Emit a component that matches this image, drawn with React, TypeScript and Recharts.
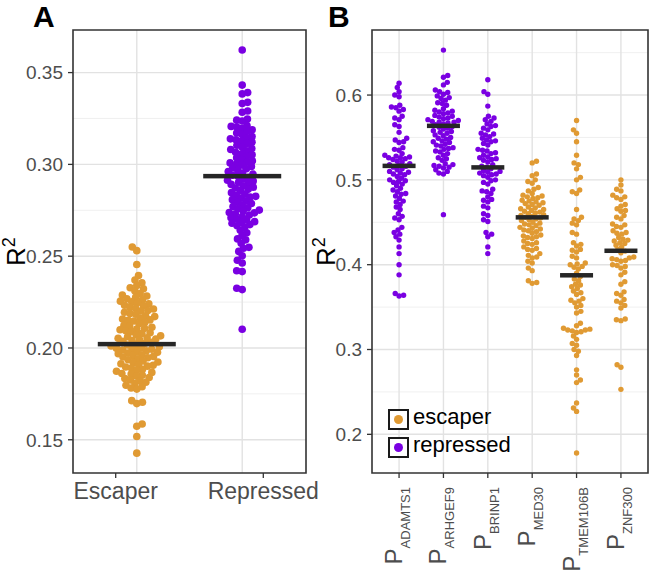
import React from 'react';
import { ScatterChart, Scatter, XAxis, YAxis, CartesianGrid, ReferenceArea, Legend, Label } from 'recharts';

const FONT = '"Liberation Sans", Arial, Helvetica, sans-serif';
const ORANGE = '#E09A33';
const PURPLE = '#7A00E2';
const BAR = '#262626';
const GRID_MAJOR = '#E2E2E2';
const GRID_MINOR = '#ECECEC';

// ---------- Panel A data ----------
const categoriesA = ['Escaper', 'Repressed'];
const xLabelPosA = [0.8, 2.2];
const escaperA = [
  0.255, 0.253, 0.2455, 0.2395, 0.237, 0.2355, 0.234, 0.2328, 0.2322, 0.231,
  0.2296, 0.2288, 0.2283, 0.2276, 0.2268, 0.2262, 0.2255, 0.2251,
  0.2246, 0.2241, 0.2233, 0.2229, 0.2221, 0.2216, 0.2212, 0.2204, 0.2201,
  0.2195, 0.2188, 0.2184, 0.2175, 0.2171, 0.2163, 0.2158, 0.2153, 0.2151,
  0.2147, 0.2139, 0.2132, 0.2124, 0.2119, 0.2113, 0.2107, 0.2103, 0.2099,
  0.2094, 0.2089, 0.2083, 0.2079, 0.2071, 0.2066, 0.2061, 0.2056, 0.2053, 0.2049,
  0.2045, 0.2041, 0.2036, 0.2031, 0.2026, 0.2019, 0.2016, 0.2011, 0.2007, 0.2003, 0.1999,
  0.1996, 0.1993, 0.1989, 0.1984, 0.1981, 0.1977, 0.1973, 0.1969, 0.1963, 0.1959, 0.1954, 0.1951,
  0.1947, 0.1941, 0.1936, 0.1929, 0.1924, 0.1921, 0.1914, 0.1909, 0.1906, 0.1901,
  0.1896, 0.1891, 0.1884, 0.1879, 0.1873, 0.1867, 0.1861, 0.1858, 0.1852,
  0.1846, 0.1839, 0.1834, 0.1826, 0.1821, 0.1813, 0.1806,
  0.1797, 0.1789, 0.1782, 0.1776,
  0.1713, 0.1704, 0.1697,
  0.1586, 0.1574, 0.1518, 0.1427,
];
const repressedA = [
  0.3623, 0.3432, 0.3391, 0.3384, 0.3338, 0.3331, 0.3291, 0.3284,
  0.3247, 0.3241, 0.3236, 0.3212, 0.3207, 0.3203,
  0.3196, 0.3188, 0.3179, 0.3171, 0.3163, 0.3152,
  0.3145, 0.3139, 0.3134, 0.3129, 0.3121, 0.3113, 0.3104,
  0.3094, 0.3086, 0.3081, 0.3074, 0.3066, 0.3058, 0.3052,
  0.3043, 0.3036, 0.3027, 0.3019, 0.3012, 0.3008, 0.3003,
  0.2996, 0.2989, 0.2981, 0.2976, 0.2968, 0.2961, 0.2953,
  0.2947, 0.2941, 0.2936, 0.2929, 0.2922, 0.2914, 0.2909, 0.2903,
  0.2897, 0.2891, 0.2884, 0.2876, 0.2871, 0.2864, 0.2857,
  0.2846, 0.2839, 0.2831, 0.2826, 0.2822, 0.2816, 0.2808, 0.2801,
  0.2794, 0.2787, 0.2779, 0.2771, 0.2764, 0.2758, 0.2751,
  0.2746, 0.2738, 0.2736, 0.2731, 0.2724, 0.2716, 0.2709, 0.2702,
  0.2697, 0.2688, 0.2684, 0.2679, 0.2672, 0.2666, 0.2659,
  0.2641, 0.2628, 0.2612, 0.2594, 0.2589, 0.2571, 0.2548, 0.2543, 0.2526,
  0.2502, 0.2478, 0.2463, 0.2421, 0.2416, 0.2325, 0.2318, 0.2102,
];
const meansA = [0.2021, 0.2936];
const yTicksA = [0.15, 0.2, 0.25, 0.3, 0.35];
const yMinorA = [0.175, 0.225, 0.275, 0.325];
const yDomainA: [number, number] = [0.1319, 0.3732];
const xDomainA: [number, number] = [0.395, 2.605];

// ---------- Panel B data ----------
const genesB = ['ADAMTS1', 'ARHGEF9', 'BRINP1', 'MED30', 'TMEM106B', 'ZNF300'];
const groupB = ['repressed', 'repressed', 'repressed', 'escaper', 'escaper', 'escaper'];
const adamts1 = [
  0.614, 0.609, 0.604, 0.6, 0.598, 0.588, 0.586, 0.585, 0.583, 0.581, 0.575, 0.573, 0.571, 0.565, 0.563,
  0.556, 0.549, 0.547, 0.545, 0.544, 0.538, 0.536, 0.535, 0.531, 0.529, 0.528, 0.527, 0.526, 0.526, 0.525,
  0.524, 0.522, 0.521, 0.519, 0.518, 0.517, 0.516, 0.515, 0.513, 0.512, 0.51, 0.509, 0.508, 0.507, 0.506,
  0.504, 0.502, 0.5, 0.499, 0.498, 0.497, 0.495, 0.493, 0.49, 0.488, 0.486, 0.484, 0.483, 0.481, 0.478,
  0.475, 0.474, 0.471, 0.468, 0.465, 0.46, 0.457, 0.455, 0.453, 0.444, 0.441, 0.438, 0.436, 0.433, 0.429,
  0.421, 0.413, 0.4, 0.388, 0.366, 0.364, 0.363,
];
const arhgef9 = [
  0.653, 0.623, 0.621, 0.615, 0.612, 0.606, 0.604, 0.603, 0.601, 0.599, 0.597, 0.596, 0.594, 0.591, 0.59,
  0.588, 0.584, 0.582, 0.581, 0.58, 0.579, 0.578, 0.576, 0.575, 0.574, 0.573, 0.572, 0.571, 0.57, 0.569,
  0.568, 0.568, 0.567, 0.566, 0.565, 0.563, 0.562, 0.561, 0.56, 0.558, 0.557, 0.556, 0.555, 0.553, 0.552,
  0.55, 0.549, 0.548, 0.546, 0.545, 0.544, 0.542, 0.541, 0.54, 0.538, 0.537, 0.536, 0.534, 0.533, 0.531,
  0.529, 0.526, 0.525, 0.523, 0.519, 0.518, 0.517, 0.516, 0.515, 0.514, 0.512, 0.51, 0.508, 0.507, 0.459,
];
const brinp1 = [
  0.618, 0.604, 0.601, 0.587, 0.575, 0.573, 0.571, 0.569, 0.566, 0.564, 0.563, 0.561, 0.559, 0.555, 0.554,
  0.553, 0.551, 0.549, 0.547, 0.546, 0.545, 0.543, 0.541, 0.536, 0.535, 0.534, 0.532, 0.531, 0.529, 0.527,
  0.526, 0.525, 0.524, 0.523, 0.521, 0.518, 0.516, 0.515, 0.513, 0.511, 0.51, 0.509, 0.508, 0.507, 0.506,
  0.505, 0.503, 0.5, 0.499, 0.497, 0.495, 0.489, 0.487, 0.486, 0.484, 0.48, 0.477, 0.476, 0.474, 0.469,
  0.467, 0.46, 0.458, 0.453, 0.451, 0.438, 0.436, 0.433, 0.421, 0.413,
];
const med30 = [
  0.522, 0.52, 0.507, 0.505, 0.5, 0.498, 0.496, 0.491, 0.489, 0.487, 0.484, 0.482, 0.481, 0.48, 0.479,
  0.478, 0.476, 0.475, 0.474, 0.473, 0.472, 0.471, 0.47, 0.468, 0.467, 0.466, 0.465, 0.464, 0.463, 0.462,
  0.461, 0.46, 0.459, 0.458, 0.457, 0.456, 0.455, 0.454, 0.453, 0.452, 0.45, 0.449, 0.448, 0.447, 0.446,
  0.444, 0.443, 0.442, 0.441, 0.44, 0.439, 0.437, 0.435, 0.434, 0.433, 0.432, 0.431, 0.428, 0.426, 0.425,
  0.424, 0.421, 0.419, 0.418, 0.417, 0.413, 0.411, 0.409, 0.408, 0.404, 0.402, 0.396, 0.393, 0.381, 0.379,
  0.378,
];
const tmem106b = [
  0.57, 0.559, 0.555, 0.545, 0.529, 0.52, 0.518, 0.513, 0.503, 0.5, 0.488, 0.486, 0.484, 0.465, 0.456,
  0.454, 0.452, 0.449, 0.447, 0.438, 0.436, 0.426, 0.424, 0.422, 0.418, 0.417, 0.415, 0.41, 0.408, 0.402,
  0.401, 0.4, 0.398, 0.397, 0.395, 0.39, 0.386, 0.383, 0.381, 0.377, 0.376, 0.374, 0.372, 0.369, 0.367,
  0.365, 0.36, 0.358, 0.357, 0.355, 0.352, 0.35, 0.345, 0.343, 0.331, 0.328, 0.325, 0.324, 0.323, 0.323,
  0.322, 0.321, 0.32, 0.316, 0.312, 0.307, 0.305, 0.3, 0.298, 0.293, 0.276, 0.27, 0.264, 0.261, 0.237,
  0.231, 0.227, 0.178,
];
const znf300 = [
  0.5, 0.494, 0.489, 0.487, 0.482, 0.48, 0.479, 0.477, 0.471, 0.469, 0.466, 0.464, 0.463, 0.458, 0.456,
  0.454, 0.448, 0.447, 0.445, 0.444, 0.44, 0.438, 0.437, 0.436, 0.432, 0.43, 0.429, 0.428, 0.426, 0.425,
  0.423, 0.421, 0.418, 0.416, 0.414, 0.409, 0.408, 0.407, 0.406, 0.405, 0.404, 0.4, 0.399, 0.398, 0.396,
  0.391, 0.388, 0.38, 0.377, 0.368, 0.366, 0.364, 0.359, 0.357, 0.355, 0.352, 0.349, 0.336, 0.335, 0.334,
  0.282, 0.279, 0.253,
];
const valuesB = [adamts1, arhgef9, brinp1, med30, tmem106b, znf300];
const meansB = [0.5165, 0.5637, 0.5147, 0.4558, 0.3875, 0.4164];
const yTicksB = [0.2, 0.3, 0.4, 0.5, 0.6];
const yMinorB = [0.25, 0.35, 0.45, 0.55, 0.65];
const yDomainB: [number, number] = [0.1544, 0.6767];
const xDomainB: [number, number] = [0.39, 6.61];
const xTicksB = [1, 2, 3, 4, 5, 6];

// ---------- Layout ----------
const H = 571;
const TOP = 30;
const XAXIS_H = 98;
const PLOT_H = H - TOP - XAXIS_H;
const A_W = 330, A_YW = 73, A_RIGHT = 24;
const B_LEFT = 310, B_W = 341, B_YW = 62, B_RIGHT = 3;
const A_PLOT_W = A_W - A_YW - A_RIGHT;
const B_PLOT_W = B_W - B_YW - B_RIGHT;

// beeswarm (swarm) layout: horizontal pixel offsets so that dots do not collide
function swarmOffsets(values: number[], pxPerUnit: number, spacing: number): number[] {
  const order = values.map((_, i) => i).sort((a, b) => values[a] - values[b]);
  const placed: { x: number; y: number }[] = [];
  const out = new Array(values.length).fill(0);
  order.forEach((idx, k) => {
    const y = values[idx] * pxPerUnit;
    const intervals: [number, number][] = [];
    for (const p of placed) {
      const dy = Math.abs(p.y - y);
      if (dy < spacing) {
        const h = Math.sqrt(spacing * spacing - dy * dy);
        intervals.push([p.x - h, p.x + h]);
      }
    }
    const cands = [0];
    intervals.forEach(([a, b]) => cands.push(a, b));
    const ok = cands.filter((c) => intervals.every(([a, b]) => c <= a + 1e-6 || c >= b - 1e-6));
    ok.sort((a, b) => Math.abs(a) - Math.abs(b) || (k % 2 === 0 ? a - b : b - a));
    const x = ok[0];
    placed.push({ x, y });
    out[idx] = x;
  });
  return out;
}

function buildPoints(values: number[], cat: number, pxY: number, pxX: number, spacing: number) {
  const offs = swarmOffsets(values, pxY, spacing);
  return values.map((v, i) => ({ x: cat + offs[i] / pxX, y: v }));
}

const pxYA = PLOT_H / (yDomainA[1] - yDomainA[0]);
const pxXA = A_PLOT_W / (xDomainA[1] - xDomainA[0]);
const pxYB = PLOT_H / (yDomainB[1] - yDomainB[0]);
const pxXB = B_PLOT_W / (xDomainB[1] - xDomainB[0]);

const pointsEscA = buildPoints(escaperA, 1, pxYA, pxXA, 5.8);
const pointsRepA = buildPoints(repressedA, 2, pxYA, pxXA, 5.6);
const meanPtsA = meansA.map((m, i) => ({ x: i + 1, y: m }));

const pointsEscB: { x: number; y: number }[] = [];
const pointsRepB: { x: number; y: number }[] = [];
valuesB.forEach((vals, i) => {
  const pts = buildPoints(vals, i + 1, pxYB, pxXB, 4.6);
  if (groupB[i] === 'escaper') pointsEscB.push(...pts);
  else pointsRepB.push(...pts);
});
const meanPtsB = meansB.map((m, i) => ({ x: i + 1, y: m }));

const dot = (r: number, color: string) => (p: any) => <circle cx={p.cx} cy={p.cy} r={r} fill={color} />;
const bar = (w: number) => (p: any) => <rect x={p.cx - w / 2} y={p.cy - 2.25} width={w} height={4.5} fill={BAR} />;

const r2Label = (dx: number) => (props: any) => {
  const vb = props.viewBox || { x: 0, y: TOP, width: 0, height: PLOT_H };
  const cx = vb.x + dx;
  const cy = vb.y + vb.height / 2;
  return (
    <text transform={`translate(${cx},${cy}) rotate(-90)`} textAnchor="middle" fontFamily={FONT} fill="#000">
      <tspan fontSize={26}>R</tspan>
      <tspan fontSize={18} dy={-10}>2</tspan>
    </text>
  );
};

const GeneTick = (props: any) => {
  const { x, y, payload } = props;
  const name = genesB[Math.round(payload.value) - 1];
  return (
    <g transform={`translate(${x},${y}) rotate(-90)`}>
      <text textAnchor="end" fontFamily={FONT} fill="#4D4D4D">
        <tspan fontSize={24} dy={3}>P</tspan>
        <tspan fontSize={13} dy={8}>{name}</tspan>
      </text>
    </g>
  );
};

const renderLegend = (props: any) => {
  const payload = (props.payload || []).filter((e: any) => e.type !== 'none');
  return (
    <div style={{ fontFamily: FONT }}>
      {payload.map((entry: any) => (
        <div key={entry.value} style={{ display: 'flex', alignItems: 'center', height: 28 }}>
          <div
            style={{
              width: 17, height: 17, border: '2px solid #1A1A1A', background: '#fff',
              display: 'flex', alignItems: 'center', justifyContent: 'center',
            }}
          >
            <div style={{ width: 9, height: 9, borderRadius: '50%', background: entry.color }} />
          </div>
          <span style={{ fontSize: 22, marginLeft: 4, color: '#000', position: 'relative', top: -2 }}>{entry.value}</span>
        </div>
      ))}
    </div>
  );
};

const letterStyle: React.CSSProperties = {
  position: 'absolute', top: 2, fontFamily: FONT, fontWeight: 'bold', fontSize: 30, lineHeight: '30px', color: '#000',
};

export default function App() {
  return (
    <div style={{ position: 'absolute', left: 0, top: 0, width: 651, height: 571, background: '#fff', overflow: 'hidden' }}>
      <div style={{ position: 'absolute', left: 0, top: 0 }}>
        <ScatterChart width={A_W} height={H} margin={{ top: TOP, right: A_RIGHT, bottom: 0, left: 0 }}>
          <CartesianGrid horizontalValues={yMinorA} vertical={false} stroke={GRID_MINOR} strokeWidth={0.8} />
          <CartesianGrid horizontalValues={yTicksA} verticalValues={[1, 2]} stroke={GRID_MAJOR} strokeWidth={1.4} />
          <XAxis
            type="number" dataKey="x" domain={xDomainA} ticks={xLabelPosA} interval={0}
            tickFormatter={(v: number) => categoriesA[xLabelPosA.indexOf(v)]}
            axisLine={false} tickSize={5} tickMargin={5} height={XAXIS_H}
            tickLine={{ stroke: '#333', strokeWidth: 1.3 }}
            tick={{ fill: '#4D4D4D', fontSize: 23, fontFamily: FONT }}
          />
          <YAxis
            type="number" dataKey="y" domain={yDomainA} ticks={yTicksA} interval={0} width={A_YW}
            tickFormatter={(v: number) => v.toFixed(2)}
            axisLine={false} tickSize={5} tickMargin={5}
            tickLine={{ stroke: '#333', strokeWidth: 1.3 }}
            tick={{ fill: '#4D4D4D', fontSize: 19, fontFamily: FONT }}
          >
            <Label content={r2Label(25)} />
          </YAxis>
          <ReferenceArea x1={xDomainA[0]} x2={xDomainA[1]} y1={yDomainA[0]} y2={yDomainA[1]} fill="none" stroke="#333" strokeWidth={1.6} ifOverflow="visible" />
          <Scatter name="escaper" data={pointsEscA} fill={ORANGE} shape={dot(3.8, ORANGE)} isAnimationActive={false} />
          <Scatter name="repressed" data={pointsRepA} fill={PURPLE} shape={dot(3.8, PURPLE)} isAnimationActive={false} />
          <Scatter name="mean" data={meanPtsA} fill={BAR} legendType="none" shape={bar(78)} isAnimationActive={false} />
        </ScatterChart>
      </div>

      <div style={{ position: 'absolute', left: B_LEFT, top: 0 }}>
        <ScatterChart width={B_W} height={H} margin={{ top: TOP, right: B_RIGHT, bottom: 0, left: 0 }}>
          <CartesianGrid horizontalValues={yMinorB} vertical={false} stroke={GRID_MINOR} strokeWidth={0.8} />
          <CartesianGrid horizontalValues={yTicksB} verticalValues={xTicksB} stroke={GRID_MAJOR} strokeWidth={1.4} />
          <XAxis
            type="number" dataKey="x" domain={xDomainB} ticks={xTicksB} interval={0}
            axisLine={false} tickSize={5} tickMargin={9} height={XAXIS_H}
            tickLine={{ stroke: '#333', strokeWidth: 1.3 }}
            tick={<GeneTick />}
          />
          <YAxis
            type="number" dataKey="y" domain={yDomainB} ticks={yTicksB} interval={0} width={B_YW}
            tickFormatter={(v: number) => v.toFixed(1)}
            axisLine={false} tickSize={5} tickMargin={5}
            tickLine={{ stroke: '#333', strokeWidth: 1.3 }}
            tick={{ fill: '#4D4D4D', fontSize: 19, fontFamily: FONT }}
          >
            <Label content={r2Label(25)} />
          </YAxis>
          <ReferenceArea x1={xDomainB[0]} x2={xDomainB[1]} y1={yDomainB[0]} y2={yDomainB[1]} fill="none" stroke="#333" strokeWidth={1.6} ifOverflow="visible" />
          <Legend
            content={renderLegend} layout="vertical" align="center" verticalAlign="middle"
            wrapperStyle={{ left: 388 - B_LEFT, top: 405, width: 'auto', height: 'auto' }}
          />
          <Scatter name="escaper" data={pointsEscB} fill={ORANGE} shape={dot(2.7, ORANGE)} isAnimationActive={false} />
          <Scatter name="repressed" data={pointsRepB} fill={PURPLE} shape={dot(2.7, PURPLE)} isAnimationActive={false} />
          <Scatter name="mean" data={meanPtsB} fill={BAR} legendType="none" shape={bar(33)} isAnimationActive={false} />
        </ScatterChart>
      </div>

      <div style={{ ...letterStyle, left: 33 }}>A</div>
      <div style={{ ...letterStyle, left: 328 }}>B</div>
    </div>
  );
}
